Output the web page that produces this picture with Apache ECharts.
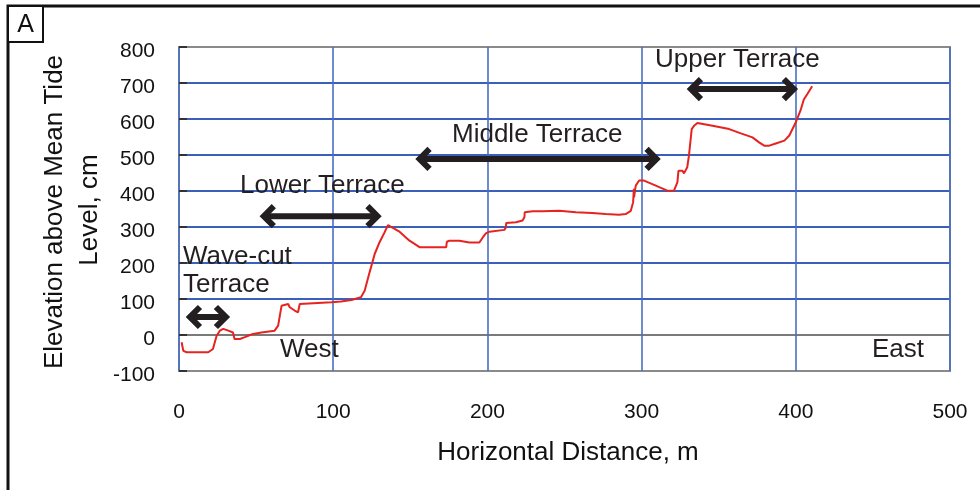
<!DOCTYPE html>
<html>
<head>
<meta charset="utf-8">
<script src="https://cdn.jsdelivr.net/npm/echarts@6/dist/echarts.min.js"></script>
<style>html,body{margin:0;padding:0;background:#fff}#c{width:980px;height:490px}</style>
</head>
<body>
<div id="c"></div>
<script>
// Horizontal distance (m)
const distance = [1.7, 2.8, 5, 19, 22, 24.4, 26.5, 28.7, 32, 35, 36, 39.5, 42.7, 44.9, 48, 53.5, 62, 64.3, 65.4, 66.5, 67.5, 70.8, 71.8, 75, 77.2, 78.3, 79.4, 98.8, 105, 111.8, 118, 120.4, 123.6, 126.9, 130, 133.3, 135.5, 136.6, 143, 149.5, 156, 173.3, 173.7, 175.4, 181.9, 188.3, 194.8, 197, 199, 201.3, 211, 212, 212.2, 218.5, 222.8, 224, 224.2, 229.4, 235.8, 237, 246.6, 257.4, 268, 276.7, 285.4, 289.7, 293, 294.5, 295, 295.1, 296.2, 298.4, 301.6, 309.2, 316.7, 321, 323.2, 323.9, 326.5, 327.5, 329.6, 330.7, 332.5, 334, 336.2, 346, 356.8, 364.4, 371.9, 376.2, 379.5, 382.8, 387, 392.6, 395.8, 400, 403, 405.2, 407.4, 410.6];
// Elevation above mean tide level (cm)
const elevation = [-20, -44, -48, -48, -39, -2, 12, 17, 12, 7, -11, -11, -6, -2, 3, 7, 12, 26, 54, 81, 86, 86, 77, 68, 63, 86, 89, 91, 93, 97, 105, 123, 174, 225, 257, 285, 305, 305, 287, 262, 244, 244, 259, 262, 262, 257, 257, 271, 282, 287, 292, 299, 311, 313, 318, 327, 341, 344, 344, 348, 345, 341, 339, 336, 334, 336, 345, 369, 406, 382, 415, 429, 429, 415, 401, 401, 424, 456, 456, 449, 466, 498, 572, 581, 589, 581, 572, 560, 549, 535, 526, 526, 532, 540, 554, 591, 623, 654, 669, 691];
const xTicks = [0, 100, 200, 300, 400, 500];
const yTicks = [-100, 0, 100, 200, 300, 400, 500, 600, 700, 800];
// Terrace arrows: [label, xStart, xEnd, elevation]
const terraceNames = ['Wave-cut Terrace', 'Lower Terrace', 'Middle Terrace', 'Upper Terrace'];
const arrowStart = [5.8, 53.7, 154.7, 330.7];
const arrowEnd = [31.7, 130, 311, 400];
const arrowLevel = [50, 330, 489, 683];

const font = 'Arial, "Liberation Sans", sans-serif';
const chart = echarts.init(document.getElementById('c'), null, {renderer: 'canvas'});
const data = distance.map((d, i) => [d, elevation[i]]);
// grey for the border lines and the zero line, blue for the other gridlines
const hColors = yTicks.map(v => (v === 0 ? '#7a7a7a' : (v === yTicks[0] || v === yTicks[yTicks.length - 1]) ? '#8a8a8a' : '#3a60bc'));

chart.setOption({
  animation: false,
  backgroundColor: '#fff',
  grid: {left: 179, right: 30, top: 47, bottom: 119, show: true, borderColor: '#8a8a8a', borderWidth: 2, backgroundColor: 'transparent'},
  xAxis: {
    type: 'value', min: xTicks[0], max: xTicks[xTicks.length - 1], interval: 100,
    axisLine: {show: false}, axisTick: {show: false},
    axisLabel: {color: '#111', fontSize: 21, fontFamily: font, margin: 31},
    splitLine: {show: true, lineStyle: {color: '#4a6fc2', width: 1.6}}
  },
  yAxis: {
    type: 'value', min: yTicks[0], max: yTicks[yTicks.length - 1], interval: 100,
    axisLine: {show: false},
    axisTick: {show: true, inside: true, length: 8, lineStyle: {color: '#333', width: 2}},
    axisLabel: {color: '#111', fontSize: 21, fontFamily: font, margin: 24, verticalAlign: 'top', lineHeight: 8},
    splitLine: {show: true, lineStyle: {color: hColors, width: 2}}
  },
  series: [{
    type: 'line', data: data, showSymbol: false, smooth: false,
    lineStyle: {color: '#e52420', width: 2}, z: 5
  }]
});

function arrowGraphic(x1, x2, y) {
  const h = 10, w = 12;
  const st = {stroke: '#231f20', lineWidth: 6, fill: null, lineJoin: 'miter', lineCap: 'butt'};
  return [
    {type: 'line', shape: {x1: x1 + 3, y1: y, x2: x2 - 3, y2: y}, style: st, z: 20},
    {type: 'polyline', shape: {points: [[x1 + w, y - h], [x1 + 2, y], [x1 + w, y + h]]}, style: st, z: 20},
    {type: 'polyline', shape: {points: [[x2 - w, y - h], [x2 - 2, y], [x2 - w, y + h]]}, style: st, z: 20}
  ];
}

const g = [];
// outer frame and panel label
g.push({type: 'polyline', shape: {points: [[8, 490], [8, 6], [980, 6]]}, style: {stroke: '#111', lineWidth: 3, fill: null}, z: 30});
g.push({type: 'rect', shape: {x: 8, y: 6, width: 35, height: 36}, style: {stroke: '#111', lineWidth: 2, fill: '#fff'}, z: 31});
g.push({type: 'text', x: 25.5, y: 25, style: {text: 'A', font: '25px ' + font, fill: '#111', align: 'center', verticalAlign: 'middle'}, z: 32});

// axis titles
const tf = '26px ' + font;
g.push({type: 'text', x: 55, y: 212, rotation: Math.PI / 2, style: {text: 'Elevation above Mean Tide', font: tf, fill: '#111', align: 'center', verticalAlign: 'middle'}});
g.push({type: 'text', x: 90, y: 210, rotation: Math.PI / 2, style: {text: 'Level, cm', font: tf, fill: '#111', align: 'center', verticalAlign: 'middle'}});
g.push({type: 'text', x: 568, y: 453, style: {text: 'Horizontal Distance, m', font: tf, fill: '#111', align: 'center', verticalAlign: 'middle'}});

// annotation labels
const labels = [['Wave-cut', 183, 257], ['Terrace', 183, 285], ['Lower Terrace', 240, 186], ['Middle Terrace', 452, 135], ['Upper Terrace', 655, 60], ['West', 280, 350], ['East', 872, 350]];
labels.forEach(l => g.push({type: 'text', x: l[1], y: l[2], style: {text: l[0], font: tf, fill: '#231f20', align: 'left', verticalAlign: 'middle'}, z: 15}));

// terrace arrows from data coordinates
for (let i = 0; i < terraceNames.length; i++) {
  const p1 = chart.convertToPixel({gridIndex: 0}, [arrowStart[i], arrowLevel[i]]);
  const p2 = chart.convertToPixel({gridIndex: 0}, [arrowEnd[i], arrowLevel[i]]);
  arrowGraphic(p1[0], p2[0], p1[1]).forEach(e => g.push(e));
}
chart.setOption({graphic: g});
</script>
</body>
</html>
